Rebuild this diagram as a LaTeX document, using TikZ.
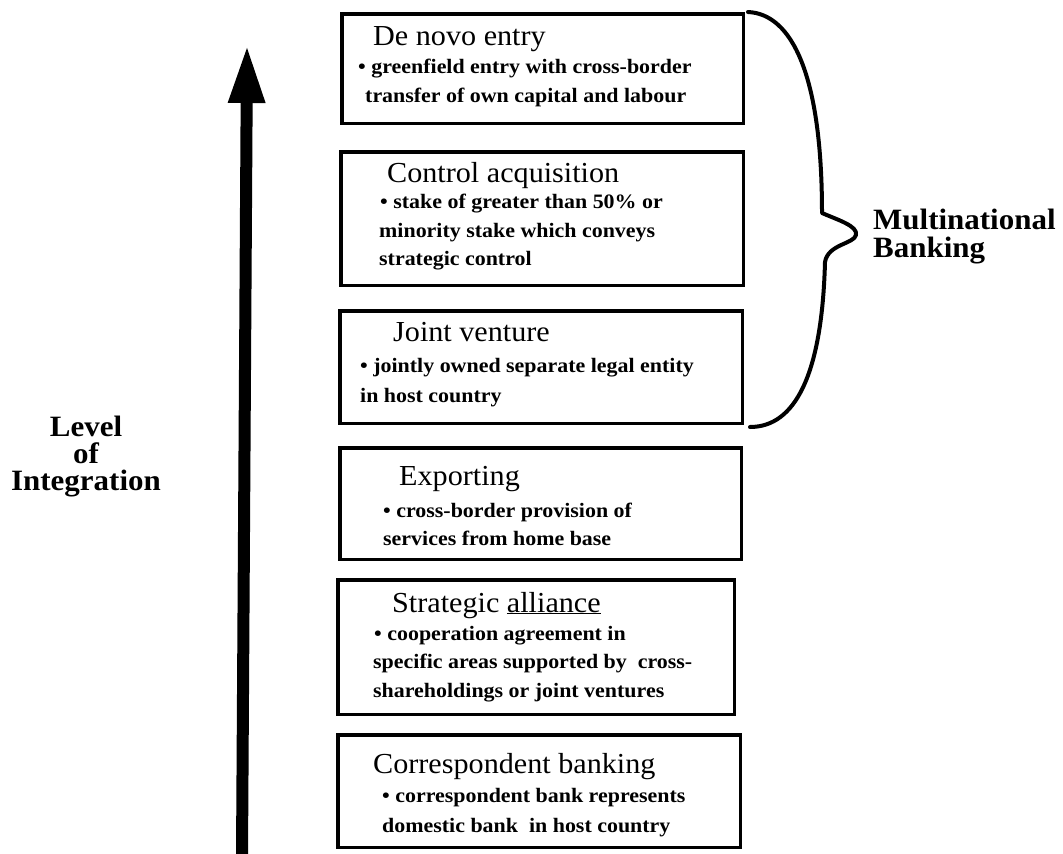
\documentclass[tikz,border=0pt]{standalone}
\usepackage{fontspec}
\setmainfont{Liberation Serif}
\newfontfamily\headfont[FakeStretch=1.04]{Liberation Serif}
\newfontfamily\bodyfont[FakeStretch=1.07]{Liberation Serif}
\newfontfamily\labfont[FakeStretch=1.05]{Liberation Serif}
\usetikzlibrary{arrows.meta,calc}
\begin{document}
\begin{tikzpicture}[x=1pt,y=-1pt,
  box/.style={draw=black, line width=3.5pt, fill=none, inner sep=0pt},
  head/.style={anchor=base west, inner sep=0pt, font=\headfont\fontsize{29}{29}\selectfont},
  bul/.style={anchor=base west, inner sep=0pt, font=\bodyfont\bfseries\fontsize{20.5}{21}\selectfont},
  lab/.style={inner sep=0pt, font=\labfont\bfseries\fontsize{29.5}{27}\selectfont},
  bracestyle/.style={line width=4pt, line cap=round, line join=round},
  bigarrow/.style={line width=12pt, -{Triangle[length=58pt,width=34pt]}}
]
\useasboundingbox (0,0) rectangle (1063,854);

% boxes
\node[box, minimum width=401.5pt, minimum height=109.5pt] (b1) at (542.5,68.5) {};
\node[box, minimum width=402.5pt, minimum height=133.5pt] (b2) at (542,218.5) {};
\node[box, minimum width=402.5pt, minimum height=112.5pt] (b3) at (541,367) {};
\node[box, minimum width=401.5pt, minimum height=111.5pt] (b4) at (540.5,503.5) {};
\node[box, minimum width=396.5pt, minimum height=134.5pt] (b5) at (536,647) {};
\node[box, minimum width=402.5pt, minimum height=112.5pt] (b6) at (539,791) {};

% box texts
\node[head] (t1h) at (373,45) {De novo entry};
\node[bul] (t1a) at (358,73) {\textbullet\ greenfield entry with cross-border};
\node[bul] (t1b) at (365,102) {transfer of own capital and labour};

\node[head] (t2h) at (387,182) {Control acquisition};
\node[bul] (t2a) at (380,208) {\textbullet\ stake of greater than 50\% or};
\node[bul] (t2b) at (379,237) {minority stake which conveys};
\node[bul] (t2c) at (379,265) {strategic control};

\node[head] (t3h) at (393,341) {Joint venture};
\node[bul] (t3a) at (360,372) {\textbullet\ jointly owned separate legal entity};
\node[bul] (t3b) at (360,402) {in host country};

\node[head] (t4h) at (399,485) {Exporting};
\node[bul] (t4a) at (383,517) {\textbullet\ cross-border provision of};
\node[bul] (t4b) at (383,545) {services from home base};

\node[head] (t5h) at (392,612) {Strategic \underline{alliance}};
\node[bul] (t5a) at (374,640) {\textbullet\ cooperation agreement in};
\node[bul] (t5b) at (373,668) {specific areas supported by\ \ cross-};
\node[bul] (t5c) at (373,697) {shareholdings or joint ventures};

\node[head] (t6h) at (373,773) {Correspondent banking};
\node[bul] (t6a) at (382,802) {\textbullet\ correspondent bank represents};
\node[bul] (t6b) at (382,832) {domestic bank\ \ in host country};

% left label
\node[lab, align=center, anchor=base] (lvl) at (86,490) {Level\\of\\Integration};

% right label
\node[lab, align=left, anchor=base west] (mb) at (873,257) {Multinational\\[1pt]Banking};

% big arrow
\coordinate (abase) at (242,856);
\coordinate (atip) at (247,45);
\draw[bigarrow] (abase) -- (atip);

% brace
\coordinate (brtop) at ($(b1.north east)+(3,0)$);
\coordinate (brbot) at ($(b3.south east)+(6,2)$);
\draw[bracestyle] (brtop) .. controls (792,14) and (822,75) .. (822,213)
  .. controls (838,220) and (858,226) .. (856,235)
  .. controls (854,244) and (828,244) .. (825,262)
  .. controls (822,375) and (795,427) .. (brbot);
\end{tikzpicture}
\end{document}
